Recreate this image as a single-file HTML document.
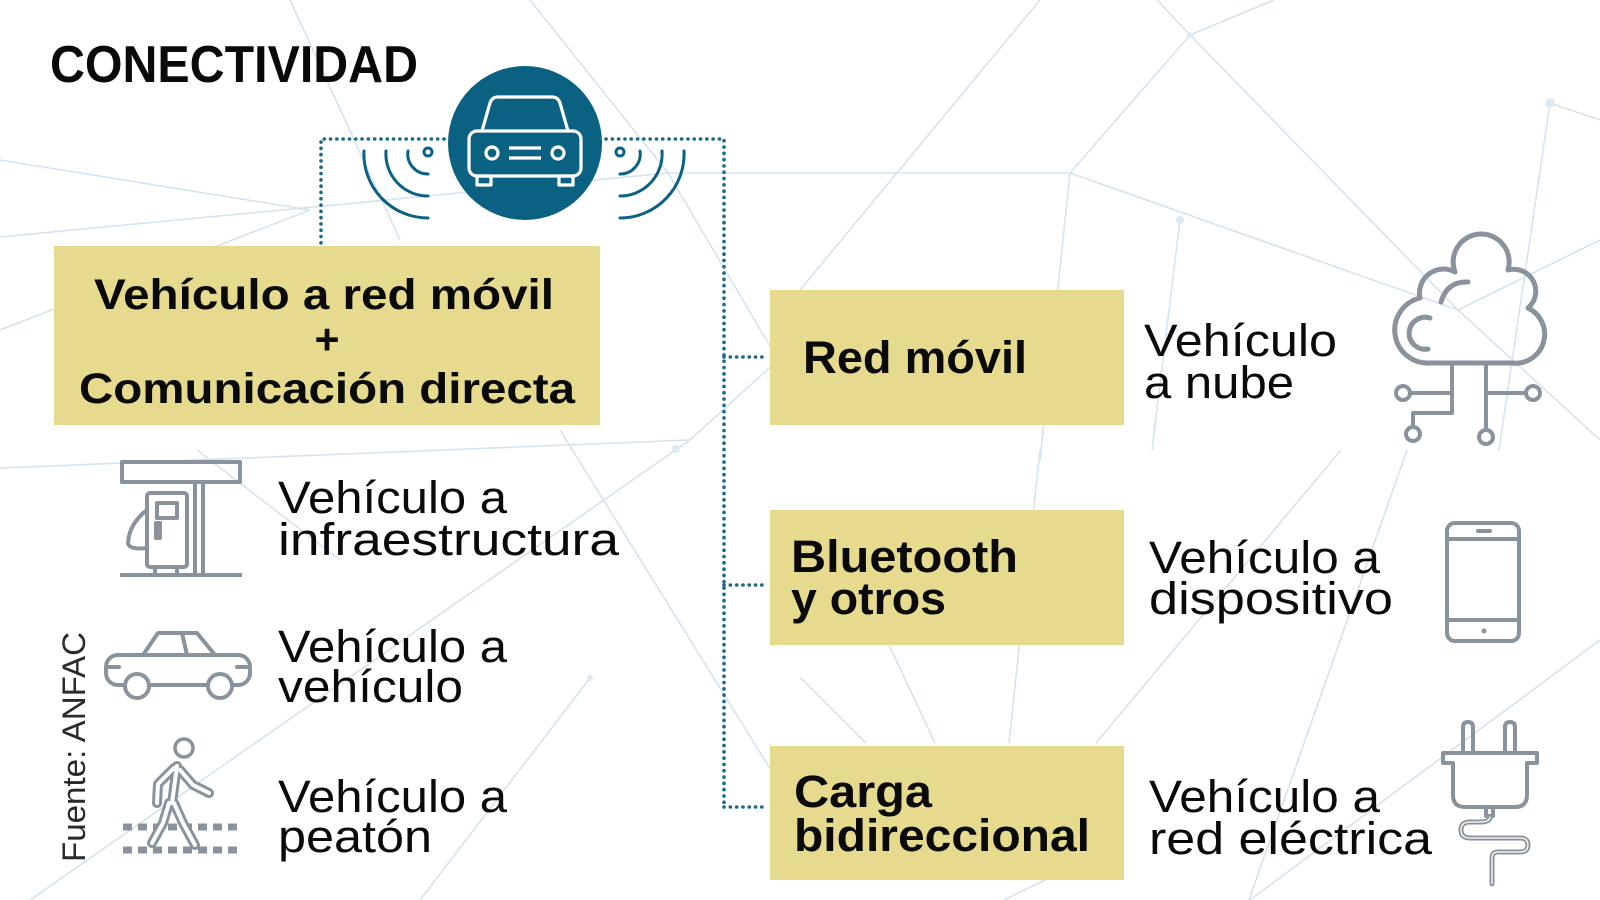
<!DOCTYPE html>
<html>
<head>
<meta charset="utf-8">
<style>
  html,body{margin:0;padding:0;background:#ffffff;}
  svg{display:block;}
  .t{font-family:"Liberation Sans",Arial,sans-serif;}
</style>
</head>
<body>
<svg width="1600" height="900" viewBox="0 0 1600 900" xmlns="http://www.w3.org/2000/svg">
  <rect x="0" y="0" width="1600" height="900" fill="#ffffff"/>

  <!-- faint background network -->
  <g stroke="#d6e3ed" stroke-width="1.6" fill="none">
    <line x1="530" y1="0" x2="668" y2="173"/>
    <line x1="0" y1="237" x2="668" y2="173"/>
    <line x1="668" y1="173" x2="1070" y2="173"/>
    <line x1="0" y1="160" x2="310" y2="210"/>
    <line x1="290" y1="0" x2="400" y2="240"/>
    <line x1="1157" y1="0" x2="1190" y2="35"/>
    <line x1="1274" y1="0" x2="1190" y2="35"/>
    <line x1="1190" y1="35" x2="1070" y2="173"/>
    <line x1="1190" y1="35" x2="1458" y2="310"/>
    <line x1="1070" y1="173" x2="1458" y2="310"/>
    <line x1="1070" y1="173" x2="1040" y2="460"/>
    <line x1="1458" y1="310" x2="1600" y2="240"/>
    <line x1="1550" y1="103" x2="1600" y2="120"/>
    <line x1="1550" y1="103" x2="1499" y2="450"/>
    <line x1="1040" y1="0" x2="800" y2="290"/>
    <line x1="668" y1="173" x2="790" y2="380"/>
    <line x1="30" y1="900" x2="690" y2="440"/>
    <line x1="690" y1="440" x2="800" y2="340"/>
    <line x1="560" y1="430" x2="800" y2="817"/>
    <line x1="0" y1="468" x2="690" y2="440"/>
    <line x1="197" y1="450" x2="340" y2="560"/>
    <line x1="1341" y1="450" x2="1096" y2="743"/>
    <line x1="1407" y1="450" x2="1249" y2="900"/>
    <line x1="1009" y1="743" x2="1040" y2="450"/>
    <line x1="935" y1="743" x2="889" y2="645"/>
    <line x1="866" y1="743" x2="800" y2="677"/>
    <line x1="1180" y1="220" x2="1152" y2="450"/>
    <line x1="1458" y1="310" x2="1600" y2="440"/>
    <line x1="1250" y1="900" x2="1600" y2="640"/>
    <line x1="0" y1="330" x2="310" y2="210"/>
    <line x1="590" y1="678" x2="420" y2="900"/>
    <line x1="1004" y1="900" x2="1045" y2="880"/>
  </g>
  <g fill="#dfe9f1">
    <circle cx="676" cy="449" r="4"/>
    <circle cx="1180" cy="220" r="4"/>
    <circle cx="1550" cy="103" r="5"/>
    <circle cx="1190" cy="35" r="3"/>
    <circle cx="590" cy="678" r="3"/>
  </g>

  <!-- Title -->
  <text class="t" x="50" y="82" font-size="52" font-weight="bold" fill="#0a0a0a" textLength="368" lengthAdjust="spacingAndGlyphs">CONECTIVIDAD</text>

  <!-- dotted connectors -->
  <g stroke="#1c6888" stroke-width="3.6" stroke-linecap="round" stroke-dasharray="0.1 6.2" fill="none">
    <path d="M444 139 L321 139 L321 244"/>
    <path d="M606 139 L724 139 L724 807"/>
    <path d="M724 357 L768 357"/>
    <path d="M724 585 L768 585"/>
    <path d="M724 807 L768 807"/>
  </g>

  <!-- car circle -->
  <circle cx="525" cy="143" r="77" fill="#0b6182"/>
  <g stroke="#ffffff" stroke-width="3.2" fill="none" stroke-linejoin="round">
    <path d="M482 131 L490 103 Q492 97 498 97 L552 97 Q558 97 560 103 L568 131"/>
    <rect x="469" y="131" width="112" height="45" rx="8"/>
    <rect x="477" y="176" width="14" height="9"/>
    <rect x="559" y="176" width="14" height="9"/>
    <circle cx="492" cy="153" r="6"/>
    <circle cx="558" cy="153" r="6"/>
    <line x1="509" y1="148" x2="541" y2="148"/>
    <line x1="509" y1="158" x2="541" y2="158"/>
  </g>

  <!-- signal arcs -->
  <g stroke="#0b6182" stroke-width="3" fill="none" stroke-linecap="round">
    <circle cx="428" cy="152" r="4"/>
    <path d="M408 151 A20 20 0 0 0 428 174"/>
    <path d="M386 151 A42 42 0 0 0 428 196"/>
    <path d="M364 151 A64 64 0 0 0 428 218"/>
    <circle cx="620" cy="152" r="4"/>
    <path d="M640 151 A20 20 0 0 1 620 174"/>
    <path d="M662 151 A42 42 0 0 1 620 196"/>
    <path d="M684 151 A64 64 0 0 1 620 218"/>
  </g>

  <!-- yellow boxes -->
  <g fill="#e6da8f">
    <rect x="54" y="246" width="546" height="179"/>
    <rect x="770" y="290" width="354" height="135"/>
    <rect x="770" y="510" width="354" height="135"/>
    <rect x="770" y="746" width="354" height="134"/>
  </g>

  <!-- main box text -->
  <g class="t" font-weight="bold" fill="#0a0a0a" font-size="43">
    <text x="94" y="309" textLength="460" lengthAdjust="spacingAndGlyphs">Vehículo a red móvil</text>
    <text x="327" y="354" text-anchor="middle">+</text>
    <text x="79" y="403" textLength="496" lengthAdjust="spacingAndGlyphs">Comunicación directa</text>
  </g>

  <!-- right box texts -->
  <g class="t" font-weight="bold" fill="#0a0a0a" font-size="45">
    <text x="803" y="373" textLength="224" lengthAdjust="spacingAndGlyphs">Red móvil</text>
    <text x="791" y="572" textLength="227" lengthAdjust="spacingAndGlyphs">Bluetooth</text>
    <text x="791" y="614" textLength="155" lengthAdjust="spacingAndGlyphs">y otros</text>
    <text x="794" y="807" textLength="138" lengthAdjust="spacingAndGlyphs">Carga</text>
    <text x="794" y="851" textLength="296" lengthAdjust="spacingAndGlyphs">bidireccional</text>
  </g>

  <!-- regular texts -->
  <g class="t" fill="#0a0a0a" font-size="45">
    <text x="278" y="513" textLength="229" lengthAdjust="spacingAndGlyphs">Vehículo a</text>
    <text x="278" y="555" textLength="341" lengthAdjust="spacingAndGlyphs">infraestructura</text>
    <text x="278" y="662" textLength="229" lengthAdjust="spacingAndGlyphs">Vehículo a</text>
    <text x="278" y="702" textLength="185" lengthAdjust="spacingAndGlyphs">vehículo</text>
    <text x="278" y="812" textLength="229" lengthAdjust="spacingAndGlyphs">Vehículo a</text>
    <text x="278" y="852" textLength="154" lengthAdjust="spacingAndGlyphs">peatón</text>

    <text x="1144" y="356" textLength="193" lengthAdjust="spacingAndGlyphs">Vehículo</text>
    <text x="1144" y="398" textLength="150" lengthAdjust="spacingAndGlyphs">a nube</text>
    <text x="1149" y="573" textLength="231" lengthAdjust="spacingAndGlyphs">Vehículo a</text>
    <text x="1149" y="614" textLength="244" lengthAdjust="spacingAndGlyphs">dispositivo</text>
    <text x="1149" y="812" textLength="231" lengthAdjust="spacingAndGlyphs">Vehículo a</text>
    <text x="1149" y="854" textLength="283" lengthAdjust="spacingAndGlyphs">red eléctrica</text>
  </g>

  <!-- source -->
  <text class="t" transform="translate(85,862) rotate(-90)" font-size="32" fill="#2a2a2a" textLength="230" lengthAdjust="spacingAndGlyphs">Fuente: ANFAC</text>

  <!-- gas station icon -->
  <g stroke="#8a939b" stroke-width="4" fill="none" stroke-linejoin="round">
    <rect x="122" y="462" width="118" height="20"/>
    <rect x="195" y="482" width="8" height="93"/>
    <line x1="120" y1="575" x2="242" y2="575"/>
    <rect x="147" y="493" width="40" height="74" rx="3"/>
    <rect x="155" y="567" width="22" height="8"/>
    <rect x="157" y="503" width="20" height="15"/>
    <rect x="156" y="523" width="4" height="15"/>
    <path d="M147 510 Q129 524 128 543 Q129 550 147 548"/>
  </g>

  <!-- car side icon -->
  <g stroke="#8a939b" stroke-width="4" fill="none" stroke-linejoin="round" stroke-linecap="round">
    <path d="M143 655 L158 633 L197 633 L215 655"/>
    <line x1="182" y1="633" x2="187" y2="655"/>
    <rect x="106" y="655" width="144" height="30" rx="12"/>
    <line x1="107" y1="667" x2="119" y2="667"/>
    <line x1="237" y1="667" x2="249" y2="667"/>
    <circle cx="137" cy="686" r="12" fill="#ffffff"/>
    <circle cx="220" cy="686" r="12" fill="#ffffff"/>
  </g>

  <!-- pedestrian icon -->
  <g stroke="#8a939b" stroke-width="7" stroke-dasharray="9 6" fill="none">
    <line x1="123" y1="827" x2="238" y2="827"/>
    <line x1="123" y1="850" x2="238" y2="850"/>
  </g>
  <g fill="none" stroke-linecap="round" stroke-linejoin="round">
    <g stroke="#8a939b" stroke-width="10">
      <path d="M177 766 L172 803"/>
      <path d="M174 768 L158 784 L157 803"/>
      <path d="M180 770 L193 785 L209 793"/>
      <path d="M169 803 L163 823 L152 843"/>
      <path d="M174 803 L183 823 L195 845"/>
    </g>
    <g stroke="#ffffff" stroke-width="4">
      <path d="M177 766 L172 803"/>
      <path d="M174 768 L158 784 L157 803"/>
      <path d="M180 770 L193 785 L209 793"/>
      <path d="M169 803 L163 823 L152 843"/>
      <path d="M174 803 L183 823 L195 845"/>
    </g>
    <circle cx="184" cy="748" r="9" stroke="#8a939b" stroke-width="3.5" fill="#ffffff"/>
  </g>

  <!-- cloud icon -->
  <g stroke="#8a939b" stroke-width="5" fill="none" stroke-linecap="round" stroke-linejoin="round">
    <path d="M1430 363 A33 33 0 0 1 1420 298 A24 24 0 0 1 1455 272 A28 28 0 1 1 1508 270 A22 22 0 0 1 1528 308 A29 29 0 0 1 1512 363 Z"/>
    <path d="M1468 282 Q1447 281 1441 302"/>
    <path d="M1430 318 A16 16 0 1 0 1428 349"/>
  </g>
  <g stroke="#8a939b" stroke-width="4" fill="none" stroke-linejoin="round">
    <path d="M1452 363 L1452 413 L1413 413 L1413 427"/>
    <circle cx="1413" cy="434" r="7"/>
    <path d="M1452 393 L1410 393"/>
    <circle cx="1403" cy="393" r="7"/>
    <path d="M1486 363 L1486 430"/>
    <circle cx="1486" cy="437" r="7"/>
    <path d="M1486 393 L1526 393"/>
    <circle cx="1533" cy="393" r="7"/>
  </g>

  <!-- phone icon -->
  <g stroke="#8a939b" stroke-width="4" fill="none" stroke-linecap="round">
    <rect x="1447" y="523" width="72" height="118" rx="8"/>
    <line x1="1447" y1="539" x2="1519" y2="539"/>
    <line x1="1447" y1="620" x2="1519" y2="620"/>
    <line x1="1478" y1="531" x2="1490" y2="531"/>
  </g>
  <circle cx="1484" cy="631" r="2.5" fill="#8a939b"/>

  <!-- plug icon -->
  <g stroke="#8a939b" stroke-width="4" fill="none" stroke-linejoin="round">
    <path d="M1463 753 L1463 727 Q1463 722 1468 722 Q1473 722 1473 727 L1473 753"/>
    <path d="M1505 753 L1505 727 Q1505 722 1510 722 Q1515 722 1515 727 L1515 753"/>
    <path d="M1443 753 L1537 753 L1537 763 L1527 763 L1527 795 Q1527 807 1515 807 L1465 807 Q1453 807 1453 795 L1453 763 L1443 763 Z"/>
    <rect x="1486" y="807" width="7" height="9"/>
  </g>
  <g fill="none" stroke-linecap="round" stroke-linejoin="round">
    <path d="M1490 817 Q1490 822 1480 822 L1470 822 Q1461 822 1461 830 Q1461 838 1470 838 L1520 838 Q1528 838 1528 845 Q1528 852 1520 852 L1498 852 Q1492 852 1492 858 L1492 884" stroke="#8a939b" stroke-width="5"/>
    <path d="M1490 817 Q1490 822 1480 822 L1470 822 Q1461 822 1461 830 Q1461 838 1470 838 L1520 838 Q1528 838 1528 845 Q1528 852 1520 852 L1498 852 Q1492 852 1492 858 L1492 884" stroke="#ffffff" stroke-width="1.3"/>
  </g>
</svg>
</body>
</html>
